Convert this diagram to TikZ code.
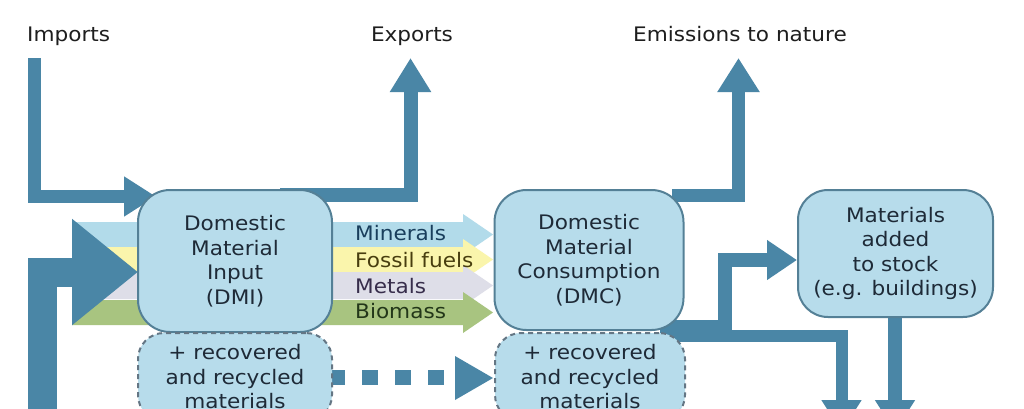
\documentclass[tikz,border=0pt]{standalone}
\usepackage{fontspec}
\setmainfont{DejaVu Sans}[FakeStretch=1.08]
\usetikzlibrary{arrows.meta}
\definecolor{flowc}{RGB}{74,134,166}
\definecolor{boxfill}{RGB}{183,220,235}
\definecolor{boxdraw}{RGB}{84,128,150}
\definecolor{dashdraw}{RGB}{100,118,132}
\definecolor{bandblue}{RGB}{178,219,234}
\definecolor{bandyellow}{RGB}{250,245,172}
\definecolor{bandgrey}{RGB}{222,222,232}
\definecolor{bandgreen}{RGB}{168,196,128}
\definecolor{txtbox}{RGB}{30,42,55}
\definecolor{txthead}{RGB}{30,30,30}
\definecolor{txtmin}{RGB}{25,62,92}
\definecolor{txtfos}{RGB}{72,62,15}
\definecolor{txtmet}{RGB}{55,45,75}
\definecolor{txtbio}{RGB}{35,55,25}
\begin{document}
\begin{tikzpicture}[x=1pt,y=-1pt,
  fnt/.style={font=\fontsize{20pt}{24.5pt}\selectfont},
  mainbox/.style={fnt, draw=boxdraw, fill=boxfill, line width=2pt, align=center, inner sep=0pt, text=txtbox},
  recbox/.style={fnt, draw=dashdraw, fill=boxfill, line width=2pt, dash pattern=on 5pt off 4pt, align=center, inner sep=0pt, text=txtbox, rounded corners=26pt, minimum height=88pt},
  head/.style={fnt, text=txthead, inner sep=0pt},
  bandlab/.style={fnt, anchor=west, inner sep=0pt},
  flow/.style={draw=flowc, line join=miter},
]
\useasboundingbox[fill=white] (0,0) rectangle (1024,408);

% coloured bands
\fill[bandblue]   (72,222) -- (463,222) -- (463,214) -- (493,234.5) -- (463,255) -- (463,247) -- (72,247) -- cycle;
\fill[bandyellow] (72,247) -- (463,247) -- (463,239) -- (493,259.5) -- (463,280) -- (463,272) -- (72,272) -- cycle;
\fill[bandgrey]   (72,272) -- (463,272) -- (463,265) -- (493,285.5) -- (463,306) -- (463,299) -- (72,299) -- cycle;
\fill[bandgreen]  (72,300) -- (463,300) -- (463,292) -- (493,312.5) -- (463,333) -- (463,325) -- (72,325) -- cycle;

% labels on top
\node[head, anchor=base west] (imp) at (27,41) {Imports};
\node[head, anchor=base] (exp) at (412,41) {Exports};
\node[head, anchor=base] (emi) at (740,41) {Emissions to nature};

% named end points
\coordinate (impS) at (34.5,58);
\coordinate (impE) at (156,196.5);
\coordinate (expS) at (280,195);
\coordinate (expE) at (410.5,58);
\coordinate (emiS) at (672,195);
\coordinate (emiE) at (738.5,58);
\coordinate (extS) at (42.5,430);
\coordinate (extE) at (138,272);
\coordinate (outS) at (662,336);
\coordinate (outE) at (841.5,432);
\coordinate (stkS) at (725,330);
\coordinate (stkE) at (797,260);
\coordinate (stdS) at (895,310);
\coordinate (stdE) at (895,432);

% block arrows
\draw[flow, line width=13pt, -{Triangle[length=32pt,width=38pt]}] (impS) |- (impE);
\draw[flow, line width=14pt, -{Triangle[length=34pt,width=39pt]}] (expS) -| (expE);
\draw[flow, line width=13pt, -{Triangle[length=34pt,width=40pt]}] (emiS) -| (emiE);
\draw[flow, line width=29pt, -{Triangle[length=66pt,width=102pt]}] (extS) |- (extE);
\fill[flowc] (660,320) rectangle (732,342);
\draw[flow, line width=12pt, -{Triangle[length=32pt,width=38pt]}] (outS) -| (outE);
\draw[flow, line width=14pt, -{Triangle[length=30pt,width=38pt]}] (stkS) |- (stkE);
\draw[flow, line width=14pt, -{Triangle[length=32pt,width=38pt]}] (stdS) -- (stdE);

% dashed recycled flow
\coordinate (recS) at (329,377.5);
\coordinate (recE) at (493,378);
\draw[flowc, line width=15pt, dash pattern=on 16pt off 17pt] (recS) -- (452,377.5);
\fill[flowc] (455,356) -- (recE) -- (455,400) -- cycle;

% boxes
\node[mainbox, rounded corners=32pt, minimum width=194pt, minimum height=142pt] (dmi) at (235,261)
  {Domestic\\Material\\Input\\(DMI)};
\node[mainbox, rounded corners=32pt, minimum width=189pt, minimum height=140pt] (dmc) at (589,260)
  {Domestic\\Material\\Consumption\\(DMC)};
\node[mainbox, rounded corners=30pt, minimum width=195pt, minimum height=127pt] (stock) at (895.5,253.5)
  {Materials\\added\\to stock\\(e.g. buildings)};
\node[recbox, minimum width=194pt] (rec1) at (235,377) {+ recovered\\and recycled\\materials};
\node[recbox, minimum width=190pt] (rec2) at (590,377) {+ recovered\\and recycled\\materials};

% band labels
\node[bandlab, text=txtmin] (lmin) at (355,233) {Minerals};
\node[bandlab, text=txtfos] (lfos) at (355,260) {Fossil fuels};
\node[bandlab, text=txtmet] (lmet) at (355,286) {Metals};
\node[bandlab, text=txtbio] (lbio) at (355,311) {Biomass};
\end{tikzpicture}
\end{document}
